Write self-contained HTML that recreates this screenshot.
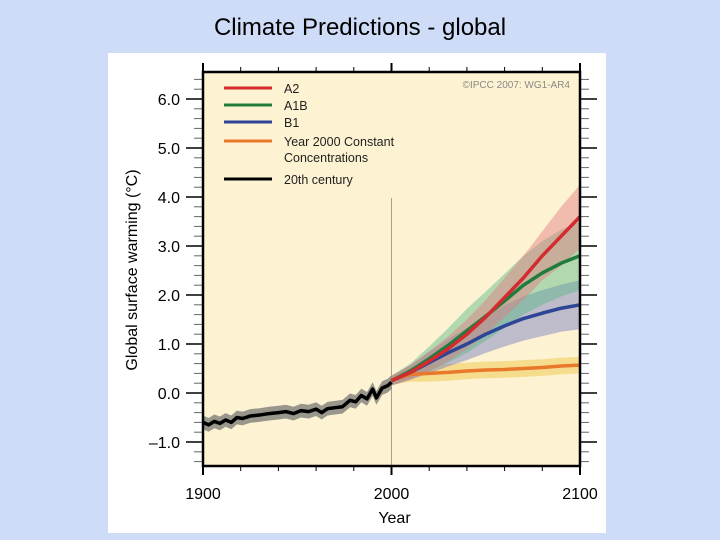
<!DOCTYPE html>
<html><head><meta charset="utf-8"><style>
body{margin:0;width:720px;height:540px;background:#cfdcf7;overflow:hidden;font-family:"Liberation Sans",sans-serif}
#title{position:absolute;left:0;width:720px;top:14px;text-align:center;font-size:24px;color:#000}
#panel{position:absolute;left:108px;top:53px;width:498px;height:480px;background:#fff}
</style></head><body>
<div id="title">Climate Predictions - global</div>
<div id="panel"></div>
<svg id="chart" width="720" height="540" style="position:absolute;left:0;top:0"></svg>
<script>
const histYears=[1900,1903,1906,1909,1912,1915,1918,1921,1925,1930,1935,1940,1944,1948,1952,1956,1960,1963,1966,1970,1974,1978,1981,1984,1987,1990,1992,1995,1998,2000];
const histVals=[-0.6,-0.65,-0.58,-0.62,-0.55,-0.6,-0.5,-0.52,-0.47,-0.45,-0.42,-0.4,-0.38,-0.42,-0.36,-0.38,-0.33,-0.4,-0.32,-0.3,-0.28,-0.15,-0.18,-0.05,-0.12,0.08,-0.1,0.1,0.15,0.22];
const projYears=[2000,2010,2020,2030,2040,2050,2060,2070,2080,2090,2100];
const a2Vals=[0.25,0.42,0.65,0.9,1.2,1.55,1.95,2.35,2.8,3.2,3.6];
const a1bVals=[0.25,0.45,0.7,0.97,1.27,1.57,1.88,2.2,2.45,2.65,2.8];
const b1Vals=[0.25,0.42,0.62,0.82,1.0,1.2,1.37,1.52,1.63,1.73,1.8];
const constVals=[0.27,0.38,0.4,0.42,0.45,0.47,0.48,0.5,0.52,0.55,0.57];
const a2Spread=[0.1,0.15,0.2,0.25,0.3,0.35,0.4,0.45,0.5,0.6,0.65];
const a1bSpread=[0.1,0.15,0.25,0.35,0.45,0.5,0.55,0.6,0.65,0.68,0.7];
const b1Spread=[0.1,0.15,0.22,0.28,0.33,0.38,0.42,0.45,0.47,0.48,0.5];
const constSpread=[0.1,0.15,0.17,0.17,0.17,0.17,0.17,0.17,0.17,0.17,0.17];
const histSpread=0.14;
const yTicks=[-1,0,1,2,3,4,5,6];
const xTicks=[1900,2000,2100];
const legendLabels=[["A2"],["A1B"],["B1"],["Year 2000 Constant","Concentrations"],["20th century"]];
const legendColors=["#d42b2f","#1f7c3c","#2d4596","#e8782a","#000"];

const NS="http://www.w3.org/2000/svg";
const svg=document.getElementById('chart');
const L=203,R=580,T=72,B=466;
const X=y=>L+(y-1900)*(R-L)/200;
const Y=v=>393-v*49;
function el(tag,attrs,parent){const e=document.createElementNS(NS,tag);for(const k in attrs)e.setAttribute(k,attrs[k]);(parent||svg).appendChild(e);return e;}

const bg=el('rect',{x:L,y:T,width:R-L,height:B-T,fill:'#fdf3d2'});



const vline=el('line',{x1:X(2000),x2:X(2000),y1:198,y2:B,stroke:'#a89f90','stroke-width':1});



for(let v=-1.4;v<=6.5001;v+=0.2){
  const maj=Math.abs(v-Math.round(v))<0.01;
  [[L,-1],[R,1]].forEach(([x0,d])=>{
    el('line',{x1:x0,x2:x0+d*(maj?17:9),y1:Y(v),y2:Y(v),stroke:maj?'#000':'#666','stroke-width':maj?1.5:1});
  });
}
for(let yr=1900;yr<=2100;yr+=20){
  const maj=yr%100===0;
  [[T,-1],[B,1]].forEach(([y0,d])=>{
    el('line',{x1:X(yr),x2:X(yr),y1:y0,y2:y0+d*(maj?9:5),stroke:'#000','stroke-width':maj?2:1});
  });
}
yTicks.forEach(v=>{
  const t=el('text',{x:180,y:Y(v)+6,'text-anchor':'end','font-size':16,fill:'#000'});
  t.textContent=(v<0?'\u20131.0':v.toFixed(1));
  
  
});
xTicks.forEach(v=>{
  const t=el('text',{x:X(v),y:499,'text-anchor':'middle','font-size':16,fill:'#000'});
  t.textContent=v;
  
  
});
const xt=el('text',{x:X(2000)+3,y:523,'text-anchor':'middle','font-size':16});
xt.textContent='Year';


const yt=el('text',{x:0,y:0,'text-anchor':'middle','font-size':16,transform:'translate(137,270) rotate(-90)'});
yt.textContent='Global surface warming (\u00B0C)';



function band(xs,vals,sp,color,op,name){
  let d='';
  xs.forEach((x,i)=>d+=(i?'L':'M')+X(x)+','+Y(vals[i]+(Array.isArray(sp)?sp[i]:sp)));
  for(let i=xs.length-1;i>=0;i--)d+='L'+X(xs[i])+','+Y(vals[i]-(Array.isArray(sp)?sp[i]:sp));
  const p=el('path',{d:d+'Z',fill:color,'fill-opacity':op});
  
  
}
function line(xs,vals,color,name){
  const p=el('polyline',{points:xs.map((x,i)=>X(x)+','+Y(vals[i])).join(' '),fill:'none',stroke:color,'stroke-width':3.5,'stroke-linejoin':'round'});
  
  
}
band(histYears,histVals,histSpread,'#6e6e6e',0.7,'band-20th-century');
band(projYears,constVals,constSpread,'#f0c84a',0.5,'band-constant');
band(projYears,b1Vals,b1Spread,'#7f83c4',0.5,'band-b1');
band(projYears,a1bVals,a1bSpread,'#54b884',0.45,'band-a1b');
band(projYears,a2Vals,a2Spread,'#e27a80',0.45,'band-a2');
line(histYears,histVals,'#000','line-20th-century');
line(projYears,constVals,legendColors[3],'line-constant');
line(projYears,b1Vals,legendColors[2],'line-b1');
line(projYears,a1bVals,legendColors[1],'line-a1b');
line(projYears,a2Vals,legendColors[0],'line-a2');

const lyOff=[88,105,122,141,179];
legendLabels.forEach((lab,i)=>{
  const g=el('g',{});
  
  
  el('line',{x1:224,x2:272,y1:lyOff[i],y2:lyOff[i],stroke:legendColors[i],'stroke-width':3},g);
  lab.forEach((s,j)=>{const t=el('text',{x:284,y:lyOff[i]+5+j*16,'font-size':12.5,fill:'#222'},g);t.textContent=s;});
});
const cr=el('text',{x:570,y:88,'text-anchor':'end','font-size':10,fill:'#888'});
cr.textContent='\u00A9IPCC 2007: WG1-AR4';



const frame=el('rect',{x:L,y:T,width:R-L,height:B-T,fill:'none',stroke:'#000','stroke-width':2.5});


</script>
</body></html>
